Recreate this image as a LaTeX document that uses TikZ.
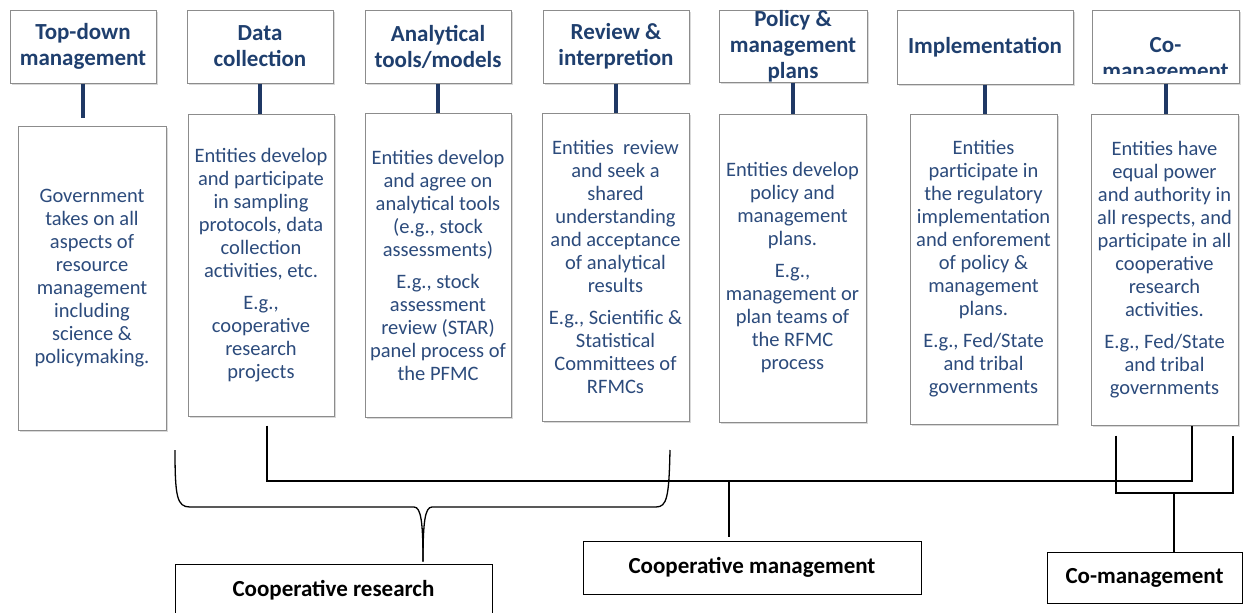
\documentclass[tikz,border=0pt]{standalone}
\usepackage{fontspec}
\setmainfont{Carlito}
\usetikzlibrary{shadows}
\definecolor{headblue}{HTML}{1F3F6E}
\definecolor{bodyblue}{HTML}{2C4B7C}
\definecolor{stemblue}{HTML}{1F3864}
\definecolor{boxgray}{HTML}{8C8C8C}
\newcommand{\hdrfont}{\fontsize{23}{26}\selectfont\bfseries}
\newcommand{\descfont}{\fontsize{20.5}{23}\selectfont}

\begin{document}
\begin{tikzpicture}[x=1pt, y=-1pt,
    every node/.style={inner sep=0pt, align=center},
    hdr/.style={draw=boxgray, line width=1pt, fill=white,
      drop shadow={opacity=0.3, shadow xshift=1.5pt, shadow yshift=-2pt},
      minimum width=146pt, minimum height=73pt,
      text=headblue, font=\hdrfont},
    desc/.style={draw=boxgray, line width=1pt, fill=white,
      drop shadow={opacity=0.3, shadow xshift=1.5pt, shadow yshift=-2pt},
      minimum width=147pt, text=bodyblue, font=\descfont},
    kind/.style={draw=black, line width=1pt, fill=white,
      font=\hdrfont},
    stem/.style={draw=stemblue, line width=4pt},
    link/.style={draw=black, line width=1.3pt},
  ]
  \clip (0,0) rectangle (1243,613);

  % headers
  \node[hdr] (h1) at (83,46.5) {Top-down\\management};
  \node[hdr] (h2) at (260,46.5) {Data\\collection};
  \node[hdr] (h3) at (438,46.5) {Analytical\\tools/models};
  \node[hdr] (h4) at (616,46.5) {Review \&\\interpretion};
  \node[hdr, minimum width=148pt, minimum height=72pt] (h5) at (793,46)
    {Policy \&\\management\\plans};
  \node[hdr, minimum width=176pt, minimum height=74pt] (h6) at (985,47)
    {Implementation};
  \node[hdr, minimum width=147pt, path picture={
      \clip (path picture bounding box.north west)
        rectangle ([yshift=10pt]path picture bounding box.south east);
      \node[text=headblue, font=\hdrfont]
        at ([yshift=-13pt]path picture bounding box.center) {Co-\\management};
    }] (h7) at (1165.5,46.5) {};

  % descriptions
  \node[desc, minimum width=148pt, minimum height=304pt] (d1) at (92,278)
    {Government\\takes on all\\aspects of\\resource\\management\\including\\science \&\\policymaking.};
  \node[desc, minimum width=146pt, minimum height=302pt] (d2) at (261,265)
    {Entities develop\\and participate\\in sampling\\protocols, data\\collection\\activities, etc.\\[9pt]
     E.g.,\\cooperative\\research\\projects};
  \node[desc, minimum width=146pt, minimum height=304pt] (d3) at (438,265)
    {Entities develop\\and agree on\\analytical tools\\(e.g., stock\\assessments)\\[9pt]
     E.g., stock\\assessment\\review (STAR)\\panel process of\\the PFMC};
  \node[desc, minimum height=308pt] (d4) at (615.5,267)
    {Entities~ review\\and seek a\\shared\\understanding\\and acceptance\\of analytical\\results\\[9pt]
     E.g., Scientific \&\\Statistical\\Committees of\\RFMCs};
  \node[desc, minimum height=308pt] (d5) at (792.5,268)
    {Entities develop\\policy and\\management\\plans.\\[9pt]
     E.g.,\\management or\\plan teams of\\the RFMC\\process};
  \node[desc, minimum height=310pt] (d6) at (983.5,269)
    {Entities\\participate in\\the regulatory\\implementation\\and enforement\\of policy \&\\management\\plans.\\[9pt]
     E.g., Fed/State\\and tribal\\governments};
  \node[desc, minimum height=311pt] (d7) at (1164.5,269.5)
    {Entities have\\equal power\\and authority in\\all respects, and\\participate in all\\cooperative\\research\\activities.\\[9pt]
     E.g., Fed/State\\and tribal\\governments};

  \draw[stem] (h1.south) -- ++(0,34);
  \draw[stem] (h2.south) -- (h2.south |- d2.north);
  \draw[stem] (h3.south) -- (h3.south |- d3.north);
  \draw[stem] (h4.south) -- (h4.south |- d4.north);
  \draw[stem] (h5.south) -- (h5.south |- d5.north);
  \draw[stem] (h6.south) -- (h6.south |- d6.north);
  \draw[stem] (h7.south) -- (h7.south |- d7.north);

  % kinds of management
  \node[kind, minimum width=317pt, minimum height=52pt] (cr) at (333.5,590)
    {Cooperative research};
  \node[kind, minimum width=338pt, minimum height=53pt] (cm) at (752,567.5)
    {Cooperative management};
  \node[kind, minimum width=195pt, minimum height=51pt] (com) at (1144.5,577.5)
    {Co-management};

  \coordinate (bus) at (0,481);
  \coordinate (fork) at (0,493);
  \coordinate (d2out) at ([xshift=6pt, yshift=-9pt]d2.south);
  \coordinate (d7out) at ([xshift=27.5pt]d7.south);
  \coordinate (cmin) at ([xshift=-23pt, yshift=4pt]cm.north);
  \coordinate (forkL) at ([xshift=-48.5pt, yshift=-10pt]d7.south);
  \coordinate (forkR) at ([xshift=68.5pt, yshift=-10pt]d7.south);
  \coordinate (comin) at ([xshift=29.5pt]com.north);
  \coordinate (tip) at ([xshift=89.5pt, yshift=2pt]cr.north);

  \draw[link] (d2out) |- (d7out |- bus) -- (d7out);
  \draw[link] (cmin |- bus) -- (cmin);
  \draw[link] (forkL) |- (forkR |- fork) -- (forkR);
  \draw[link] (comin |- fork) -- (comin);
  % brace
  \draw[link] (tip) .. controls (423,522) and (421,507) .. (414,507)
    -- (190,507) .. controls (177,507) and (175,497) .. (175,450);
  \draw[link] (tip) .. controls (423,522) and (425,507) .. (432,507)
    -- (656,507) .. controls (667,507) and (669,497) .. (670,450);
\end{tikzpicture}
\end{document}
